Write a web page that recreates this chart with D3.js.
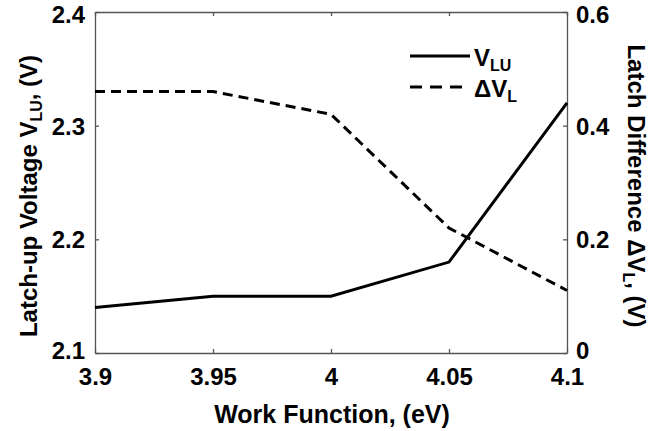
<!DOCTYPE html>
<html><head><meta charset="utf-8">
<script src="https://cdn.jsdelivr.net/npm/d3@7"></script>
<style>
body{margin:0;background:#fff;}
svg text{font-family:"Liberation Sans",Arial,sans-serif;font-weight:bold;fill:#000;}
</style></head>
<body><svg id="c" width="661" height="431"></svg>
<script>
const workFunction = [3.9, 3.95, 4.0, 4.05, 4.1];
const vLU = [2.14, 2.15, 2.15, 2.18, 2.32];
const deltaVL = [0.46, 0.46, 0.42, 0.22, 0.11];
const xTicks = [3.9, 3.95, 4.0, 4.05, 4.1];
const xTickLabels = ["3.9", "3.95", "4", "4.05", "4.1"];
const yLeftTicks = [2.1, 2.2, 2.3, 2.4];
const yRightTicks = [0, 0.2, 0.4, 0.6];

const svg = d3.select("#c");
const L = 95, R = 567, T = 12, B = 353;
const x = d3.scaleLinear().domain([3.9, 4.1]).range([L, R]);
const yL = d3.scaleLinear().domain([2.1, 2.4]).range([B, T]);
const yR = d3.scaleLinear().domain([0, 0.6]).range([B, T]);
const axisColor = "#555";
const fs = 24;

function style(g){
  g.select(".domain").attr("stroke", axisColor).attr("stroke-width", 1.3);
  g.selectAll(".tick line").attr("stroke", axisColor).attr("stroke-width", 1.3);
  g.selectAll(".tick text").style("font-size", fs + "px").style("font-weight","bold").attr("fill","#000");
}
function dyFor(ticks){
  const mx = d3.max(ticks), mn = d3.min(ticks);
  return d => d === mx ? "0.45em" : (d === mn ? "0.22em" : "0.35em");
}
// bottom
svg.append("g").attr("transform", `translate(0,${B})`)
  .call(d3.axisBottom(x).tickValues(xTicks).tickFormat((d,i)=>xTickLabels[i]).tickSizeInner(-4).tickSizeOuter(0).tickPadding(15))
  .call(style);
// top
svg.append("g").attr("transform", `translate(0,${T})`)
  .call(d3.axisTop(x).tickValues(xTicks).tickFormat("").tickSizeInner(-4).tickSizeOuter(0))
  .call(style);
// left
svg.append("g").attr("transform", `translate(${L},0)`)
  .call(d3.axisLeft(yL).tickValues(yLeftTicks).tickFormat(d3.format(".1f")).tickSizeInner(-4).tickSizeOuter(0).tickPadding(10))
  .call(style)
  .selectAll(".tick text").attr("dy", dyFor(yLeftTicks));
// right
svg.append("g").attr("transform", `translate(${R},0)`)
  .call(d3.axisRight(yR).tickValues(yRightTicks).tickFormat(d=> d===0?"0":d3.format(".1f")(d)).tickSizeInner(-4).tickSizeOuter(0).tickPadding(9))
  .call(style)
  .selectAll(".tick text").attr("dy", dyFor(yRightTicks));

// lines
const lineL = d3.line().x((d,i)=>x(workFunction[i])).y(d=>yL(d));
const lineR = d3.line().x((d,i)=>x(workFunction[i])).y(d=>yR(d));
svg.append("path").datum(vLU).attr("d", lineL).attr("fill","none").attr("stroke","#000").attr("stroke-width",3);
svg.append("path").datum(deltaVL).attr("d", lineR).attr("fill","none").attr("stroke","#000").attr("stroke-width",3).attr("stroke-dasharray","10,6");

// legend
const lg = svg.append("g");
lg.append("line").attr("x1",410).attr("x2",470).attr("y1",56).attr("y2",56).attr("stroke","#000").attr("stroke-width",3);
lg.append("line").attr("x1",410).attr("x2",470).attr("y1",87).attr("y2",87).attr("stroke","#000").attr("stroke-width",3).attr("stroke-dasharray","12,8");
const t1 = lg.append("text").attr("x",474).attr("y",66).style("font-size","24px");
t1.append("tspan").text("V");
t1.append("tspan").attr("dy",5).style("font-size","16px").text("LU");
const t2 = lg.append("text").attr("x",474).attr("y",97).style("font-size","24px");
t2.append("tspan").text("ΔV");
t2.append("tspan").attr("dy",5).style("font-size","16px").text("L");

// axis titles
svg.append("text").attr("x", 332).attr("y", 423).attr("text-anchor","middle").style("font-size","25px").text("Work Function, (eV)");

const ty = svg.append("text").attr("transform", `translate(37,196) rotate(-90)`).attr("text-anchor","middle").style("font-size", fs+"px");
ty.append("tspan").text("Latch-up Voltage V");
ty.append("tspan").attr("dy",5).style("font-size","16px").text("LU");
ty.append("tspan").attr("dy",-5).text(", (V)");

const tr = svg.append("text").attr("transform", `translate(628,186) rotate(90)`).attr("text-anchor","middle").style("font-size", fs+"px");
tr.append("tspan").text("Latch Difference ΔV");
tr.append("tspan").attr("dy",5).style("font-size","16px").text("L");
tr.append("tspan").attr("dy",-5).text(", (V)");
</script></body></html>
